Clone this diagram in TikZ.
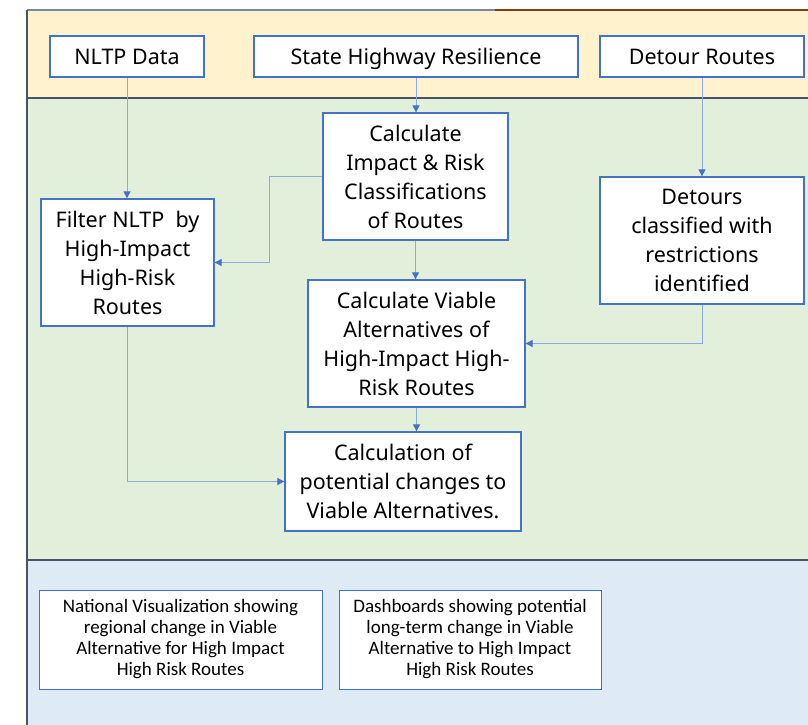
\documentclass[tikz,border=0pt]{standalone}
\usepackage{fontspec}
\setmainfont{Noto Sans}
\newfontfamily\narrowfont{Carlito}
\usetikzlibrary{arrows.meta}
\definecolor{bandorange}{HTML}{FFF2CC}
\definecolor{bandgreen}{HTML}{E2EFDA}
\definecolor{bandblue}{HTML}{DEEBF7}
\definecolor{boxblue}{HTML}{4472C4}
\definecolor{linkblue}{HTML}{8FAADC}
\definecolor{rulegrey}{HTML}{44546A}
\definecolor{rulebrown}{HTML}{843C0C}
\tikzset{
  flowbox/.style={draw=boxblue, line width=1.3pt, fill=white, align=center,
    inner sep=0pt, font=\fontsize{21.5}{29}\selectfont},
  inputbox/.style={flowbox, minimum height=41pt, text height=15.4pt, text depth=0pt},
  outbox/.style={draw=boxblue, line width=1pt, fill=white, align=center,
    inner sep=0pt, font=\narrowfont\fontsize{19}{21}\selectfont},
  link/.style={draw=linkblue, line width=1pt,
    -{Triangle[length=7pt,width=7pt,color=boxblue]}},
}
\begin{document}
\begin{tikzpicture}[x=1pt,y=-1pt]
\useasboundingbox (0,0) rectangle (808,725);
% background bands
\fill[bandorange] (27,10) rectangle (808,98);
\fill[bandgreen] (27,98) rectangle (808,560);
\fill[bandblue] (27,560) rectangle (808,725);
\draw[rulegrey, line width=1.5pt] (27,98) -- (808,98);
\draw[rulegrey, line width=1.5pt] (27,560) -- (808,560);
\draw[rulegrey!70, line width=1.2pt] (27,10) -- (495,10);
\draw[rulebrown, line width=1.2pt] (495,10) -- (808,10);
\draw[rulegrey, line width=1.5pt] (27,10) -- (27,725);

% inputs
\node[inputbox, minimum width=154pt] (nltp) at (127,56.5) {NLTP Data};
\node[inputbox, minimum width=324pt] (shr) at (416,56.5) {State Highway Resilience};
\node[inputbox, minimum width=204pt] (dtr) at (702,56.5) {Detour Routes};

% processing steps
\node[flowbox, minimum width=185pt, minimum height=127pt] (imp) at (415.5,176.5)
  {Calculate\\Impact \& Risk\\Classifications\\of Routes};
\node[flowbox, minimum width=173pt, minimum height=127pt] (filt) at (127.5,262.5)
  {Filter NLTP\ \ by\\High-Impact\\High-Risk\\Routes};
\node[flowbox, minimum width=204pt, minimum height=127pt] (det) at (702,240.5)
  {Detours\\classified with\\restrictions\\identified};
\node[flowbox, minimum width=217pt, minimum height=127pt] (via) at (416.5,343.5)
  {Calculate Viable\\Alternatives of\\High-Impact High-\\Risk Routes};
\node[flowbox, minimum width=236pt, minimum height=99pt] (chg) at (403,481.5)
  {Calculation of\\potential changes to\\Viable Alternatives.};

% outputs
\node[outbox, minimum width=283pt, minimum height=99pt] (natv) at (180.5,639.5)
  {National Visualization showing\\regional change in Viable\\Alternative for High Impact\\High Risk Routes};
\node[outbox, minimum width=262pt, minimum height=99pt] (dash) at (470,639.5)
  {Dashboards showing potential\\long-term change in Viable\\Alternative to High Impact\\High Risk Routes};

% connectors
\draw[link] (nltp.south) -- (nltp.south |- filt.north);
\draw[link] (shr.south) -- (shr.south |- imp.north);
\draw[link] (dtr.south) -- (det.north);
\draw[link] (imp.west) -- ++(-53,0) |- (filt.east);
\draw[link] (imp.south) -- (imp.south |- via.north);
\draw[link] (det.south) |- (via.east);
\draw[link] (via.south) -- (via.south |- chg.north);
\draw[link] (filt.south) |- (chg.west);
\end{tikzpicture}
\end{document}
